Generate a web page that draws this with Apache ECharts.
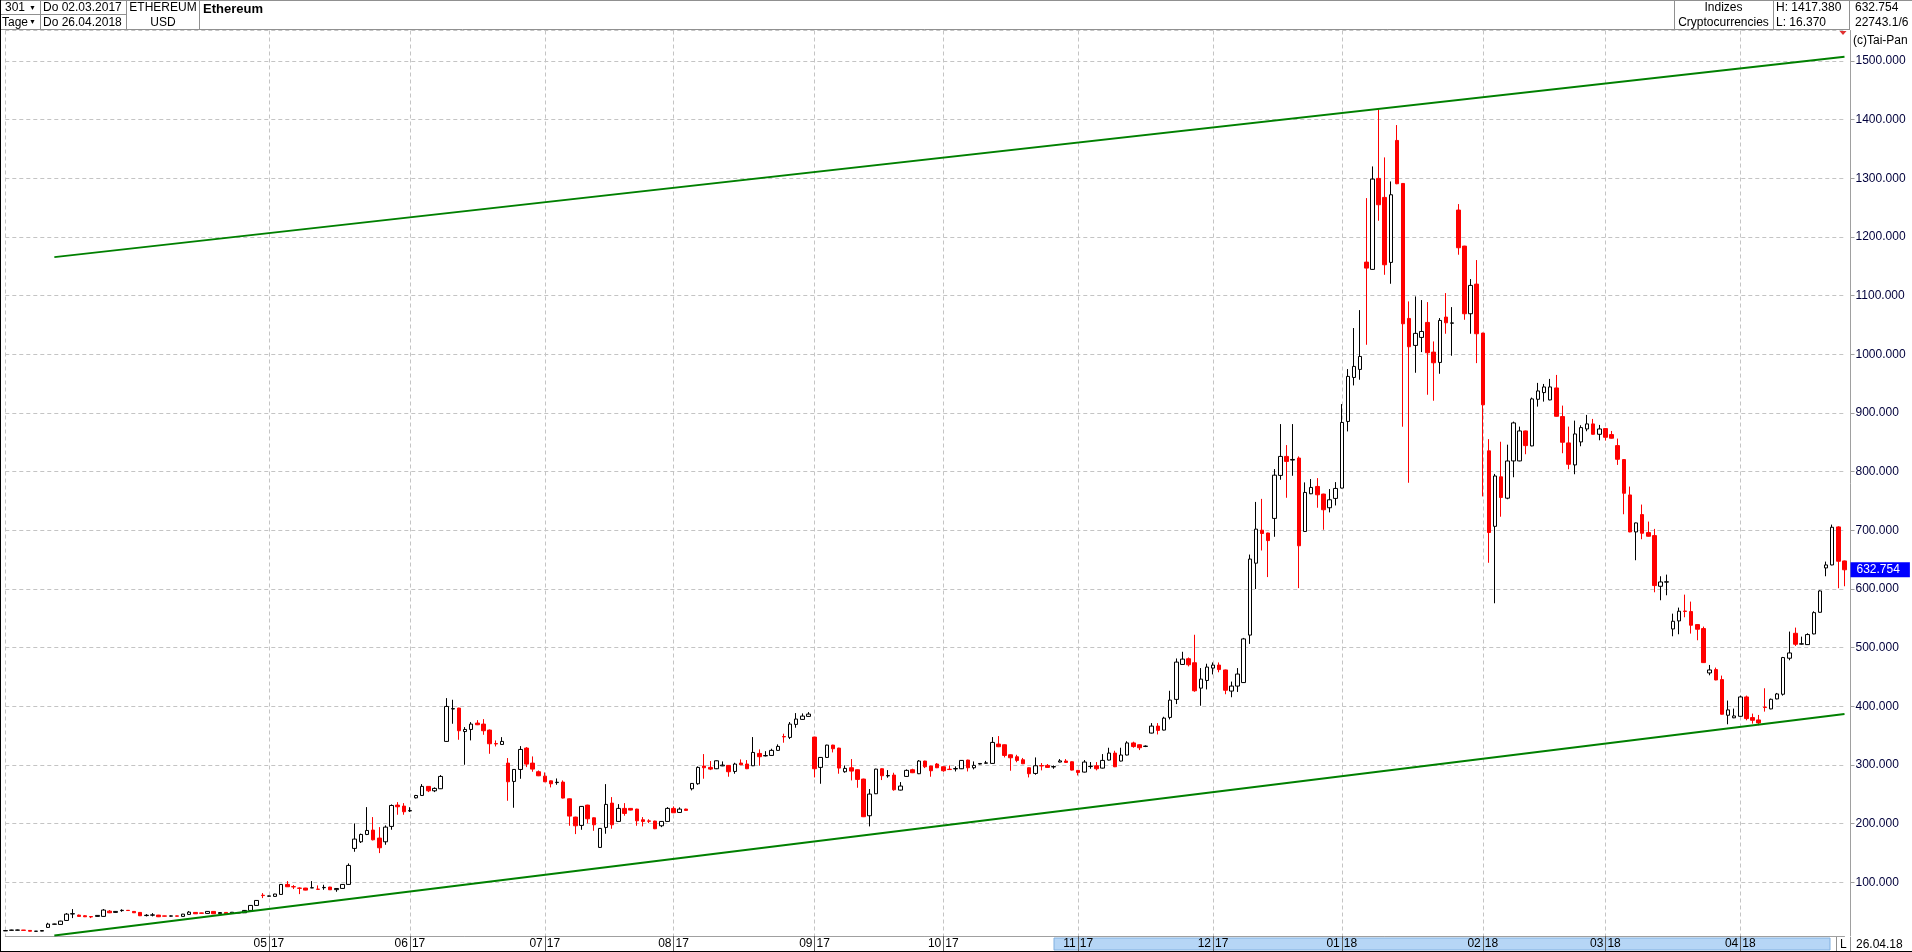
<!DOCTYPE html>
<html><head><meta charset="utf-8">
<script src="https://cdn.jsdelivr.net/npm/echarts@6/dist/echarts.min.js"></script>
<style>html,body{margin:0;padding:0;background:#fff;overflow:hidden}#c{width:1912px;height:952px}</style>
</head><body><div id="c"></div>
<script>
// ---- data (weekday candles, 02.03.2017 .. 26.04.2018) ----
const opens = [
17.2,18.2,18.4,18.6,18.0,16.5,16.8,23.1,28.5,28.2,
35.0,46.0,44.1,43.0,41.6,41.9,41.9,50.9,48.7,51.8,
52.3,50.4,48.7,43.3,44.0,44.1,42.8,42.3,42.8,41.9,
45.3,48.7,47.8,47.0,50.4,46.6,48.7,47.2,47.9,48.1,
52.1,60.6,78.0,76.3,76.0,79.4,96.4,92.6,90.2,90.2,
90.4,88.4,90.8,91.9,87.5,89.6,96.4,157.8,169.1,181.6,
189.0,175.4,169.1,195.3,231.6,229.9,221.7,244.0,248.1,263.5,
256.0,259.5,340.2,395.5,397.0,357.0,360.6,371.4,369.7,359.5,
336.5,335.0,303.2,272.0,292.4,328.8,303.2,288.5,281.0,273.0,
270.0,270.8,242.4,211.2,197.0,231.6,210.0,159.5,193.6,235.0,
203.8,226.0,226.0,224.8,206.6,204.7,204.4,196.4,203.8,226.0,
219.1,224.9,259.5,268.0,298.2,295.9,293.6,298.5,299.3,289.0,
303.3,301.6,298.7,319.7,315.5,316.3,324.9,348.5,347.0,369.2,
377.7,382.8,347.6,295.9,312.9,333.9,328.8,288.5,295.3,291.9,
276.0,213.5,251.0,293.6,281.4,282.8,257.2,280.5,291.9,285.1,
306.7,298.2,301.6,297.0,292.8,293.3,293.6,308.4,295.3,301.6,
303.0,302.7,335.7,334.5,317.4,314.0,308.9,295.3,285.6,299.0,
299.3,296.7,305.0,306.7,305.5,290.8,287.9,297.3,298.7,294.7,
308.4,320.3,306.7,317.0,337.6,334.5,331.6,354.4,366.3,359.5,
381.1,411.8,471.4,481.1,474.3,431.0,444.1,465.2,470.3,462.0,
426.0,434.5,440.5,521.4,644.0,700.2,695.4,720.3,793.6,826.0,
819.8,823.2,698.1,762.3,774.8,761.8,738.5,754.4,772.0,885.6,
960.6,974.3,1157.2,1144.8,1299.9,1267.5,1156.7,1364.6,1291.3,1061.2,
1015.2,1028.8,1054.4,1003.8,986.2,1063.5,1053.0,1245.9,1184.5,1069.2,
1119.7,1036.2,835.5,706.8,791.2,754.8,818.3,818.3,869.4,843.9,
923.4,934.8,922.3,942.7,893.9,849.0,811.5,850.7,872.8,881.4,
863.7,873.4,863.2,844.4,820.6,760.3,697.3,726.8,696.1,691.0,
604.6,611.7,531.9,545.6,562.4,561.5,539.3,532.5,456.9,462.6,
445.6,384.8,380.4,383.0,416.0,380.8,376.8,398.7,395.6,412.6,
420.6,482.0,524.5,506.0,505.2,523.4,560.3,635.9,641.0,705.8,
647.8];
const closes = [
17.8,18.6,18.7,18.1,16.6,16.8,17.8,28.8,28.9,33.9,
45.8,46.6,41.9,41.3,41.0,43.6,52.7,48.1,50.4,52.3,
51.9,48.1,43.0,43.9,44.5,41.3,42.3,42.8,42.3,45.8,
49.2,46.4,47.3,50.4,46.4,48.5,46.4,49.0,48.3,52.1,
60.6,69.1,77.4,76.8,80.0,96.4,92.4,92.2,89.8,86.7,
90.8,88.0,91.3,87.3,89.5,96.4,128.8,173.7,181.6,188.4,
172.5,158.9,194.1,231.0,228.8,220.3,222.3,248.0,263.5,256.0,
260.1,280.5,399.8,396.1,358.4,360.6,369.7,368.6,358.4,336.2,
335.9,340.2,271.4,292.4,326.5,301.5,293.0,281.6,271.4,268.0,
270.6,243.6,212.9,196.4,229.4,208.3,198.1,191.9,232.8,198.1,
226.0,217.4,223.1,204.9,203.8,204.1,191.3,203.8,226.0,218.6,
224.8,222.6,268.6,295.9,295.3,293.0,307.2,299.8,288.5,301.6,
300.4,293.6,321.4,314.1,316.1,324.9,331.7,347.9,369.7,378.3,
383.4,386.8,293.6,312.9,333.9,327.7,294.7,294.2,289.6,275.4,
211.8,250.4,293.0,281.7,282.0,257.8,264.1,290.8,286.8,306.7,
297.0,290.2,295.3,290.2,292.2,293.9,307.8,295.3,299.3,302.6,
303.6,338.5,331.1,316.3,312.3,307.8,302.1,285.1,298.7,298.4,
295.9,297.3,307.0,304.4,291.3,287.3,305.0,297.9,293.6,307.8,
320.3,297.0,317.0,337.6,331.4,329.4,332.2,366.3,359.0,379.9,
410.6,475.4,480.5,470.9,426.5,446.4,466.9,470.3,462.6,427.4,
434.5,455.0,514.9,651.0,702.0,694.6,682.5,794.0,826.0,817.5,
820.8,673.7,764.6,773.1,760.6,735.1,752.1,771.4,883.9,962.4,
979.4,996.4,1147.0,1298.7,1255.0,1152.7,1272.0,1290.8,1052.1,1012.9,
1035.7,1039.0,1002.7,985.6,1057.8,1053.8,1053.6,1181.7,1069.2,1117.5,
1035.1,914.0,696.3,792.6,756.0,818.2,883.1,869.4,844.4,924.0,
937.6,944.4,944.4,894.4,850.1,812.6,864.3,875.1,881.4,863.7,
872.8,858.6,857.0,821.1,763.2,697.3,712.6,695.0,689.9,605.8,
612.0,612.3,545.0,562.1,561.8,538.2,531.4,474.5,462.0,445.0,
386.5,393.9,383.6,416.0,379.1,376.2,371.7,398.1,412.0,421.1,
483.1,491.0,505.8,506.6,522.3,559.7,596.7,641.0,705.2,647.3,
632.754];
const lows = [
16.9,17.8,18.0,17.8,16.4,16.37,16.6,22.5,28.2,27.8,
34.6,39.0,41.3,40.8,39.0,41.5,41.5,47.5,48.2,49.8,
51.5,47.8,42.5,41.9,41.9,40.8,41.9,41.6,41.9,41.5,
44.8,46.0,46.9,46.6,46.0,46.2,46.0,46.8,47.5,47.7,
51.7,60.2,73.1,75.9,75.6,79.0,92.0,88.5,79.9,86.3,
90.2,87.9,87.3,86.9,83.9,89.2,96.0,152.1,167.0,180.5,
171.4,149.8,164.0,189.6,215.2,215.2,220.0,243.0,247.5,253.8,
253.8,259.0,339.5,370.3,343.0,300.4,341.9,368.0,351.5,319.1,
331.6,334.5,239.0,227.1,276.5,296.4,288.5,281.0,270.8,261.8,
266.3,243.0,196.4,182.2,189.6,200.4,187.9,159.0,182.8,191.3,
203.2,213.5,222.5,196.4,195.3,200.9,190.7,194.1,203.2,218.0,
218.5,222.0,256.7,266.3,276.6,291.3,293.0,298.0,280.0,285.1,
299.8,293.0,298.1,298.7,314.6,315.7,324.3,338.0,344.2,363.5,
377.1,382.2,278.8,268.0,312.3,321.4,285.1,286.8,273.7,261.2,
211.2,195.3,250.4,274.3,278.3,256.1,256.6,279.9,286.2,284.5,
294.7,280.0,294.7,288.5,291.6,289.0,293.0,289.0,292.5,301.0,
302.4,302.1,330.5,312.9,290.2,304.7,301.5,278.8,283.4,290.8,
295.3,293.6,304.4,303.8,290.7,282.2,287.3,293.6,290.8,294.1,
307.8,296.4,306.1,316.4,329.4,325.4,330.5,353.8,352.1,358.9,
377.7,403.8,470.8,468.0,424.8,401.0,428.8,454.4,458.0,420.6,
415.5,424.5,440.0,506.4,600.0,665.6,620.3,689.0,786.2,755.5,
793.0,601.5,697.5,761.7,738.5,701.0,730.6,742.4,771.4,868.6,
947.0,956.7,1016.3,1144.0,1227.7,1135.6,1120.3,1290.0,876.6,781.1,
968.6,1003.8,931.1,920.9,966.9,1035.1,997.6,1169.8,1058.9,1035.1,
985.0,757.8,644.7,575.7,723.2,753.0,790.5,817.7,829.7,843.3,
910.9,919.4,921.7,893.8,831.4,804.1,795.6,843.3,868.9,863.1,
853.5,853.0,856.4,811.5,727.4,696.7,649.0,684.8,689.3,594.4,
580.8,589.3,519.4,522.8,551.8,524.0,512.6,473.9,452.9,444.4,
385.9,369.4,379.8,382.4,376.2,370.5,367.7,391.0,395.0,412.0,
418.3,478.5,502.9,505.4,504.6,522.8,559.7,621.7,640.4,601.3,
604.7];
const highs = [
18.3,19.2,19.3,18.8,18.3,17.0,18.2,31.0,29.4,34.5,
47.6,54.4,45.0,44.0,42.0,44.0,54.4,52.7,51.0,54.0,
52.6,50.8,49.0,45.8,47.5,44.5,43.1,43.5,43.1,46.2,
51.0,49.0,48.1,50.8,50.8,48.9,49.0,49.4,48.7,52.5,
61.0,69.8,81.6,77.2,80.4,96.8,102.1,95.3,91.3,90.6,
102.1,94.7,95.8,92.3,89.9,96.8,132.2,200.4,183.0,228.2,
211.2,194.1,197.0,232.8,236.7,235.0,228.0,249.0,267.4,264.0,
261.8,282.8,414.0,411.2,397.5,364.6,373.1,376.5,378.2,360.5,
341.9,347.5,311.8,293.0,332.2,330.5,314.6,290.7,287.3,273.5,
277.0,273.7,243.0,211.8,230.0,232.2,210.6,192.5,267.4,245.3,
233.3,235.0,226.6,225.4,211.2,207.5,205.0,204.4,228.2,229.4,
227.7,225.5,269.2,297.6,318.6,306.7,307.8,306.1,299.9,303.8,
309.5,308.4,347.6,326.6,323.6,327.7,335.1,353.3,373.2,388.5,
387.9,390.2,348.2,313.5,334.5,334.5,329.4,299.3,310.1,292.5,
276.6,259.0,293.6,294.2,291.3,286.8,270.9,292.5,293.6,308.4,
307.3,298.8,303.3,297.6,299.3,297.6,308.4,309.0,306.1,303.2,
307.0,347.6,349.3,335.1,318.0,317.4,312.0,295.9,312.9,303.3,
301.6,299.3,310.1,310.1,306.1,291.4,308.4,305.0,305.0,318.6,
329.4,324.3,329.4,340.5,339.7,335.1,333.4,371.4,371.4,382.2,
426.5,481.6,493.0,483.3,522.0,465.2,472.6,474.8,474.8,462.6,
442.2,465.2,516.6,658.7,748.4,753.6,696.0,804.4,881.1,845.3,
881.1,826.0,781.7,787.4,789.0,762.4,770.3,782.2,915.2,974.9,
1044.8,1075.4,1266.3,1320.3,1417.38,1335.7,1294.7,1390.8,1292.0,1090.2,
1098.7,1092.5,1089.0,1022.0,1061.8,1104.4,1080.5,1256.1,1185.0,1128.3,
1160.7,1036.8,855.5,796.1,851.0,846.0,885.3,876.8,870.0,926.3,
951.3,949.5,958.1,964.9,912.6,876.8,887.0,879.1,896.7,889.9,
879.7,874.0,869.4,856.4,821.2,774.6,713.2,743.9,714.9,702.4,
621.7,624.5,558.0,568.3,590.4,578.5,539.9,535.9,470.5,466.0,
452.4,409.8,396.1,418.3,418.3,387.6,385.3,430.8,413.2,422.8,
484.2,527.4,534.2,518.8,524.5,562.0,597.8,646.7,709.8,706.9,
648.4];
const monthKeys = ['2017-05','2017-06','2017-07','2017-08','2017-09','2017-10','2017-11','2017-12','2018-01','2018-02','2018-03','2018-04'];
const monthLabels = ['05|17','06|17','07|17','08|17','09|17','10|17','11|17','12|17','01|18','02|18','03|18','04|18'];
const upperTrend = [[8, 1165.7], [300, 1507.3]];
const lowerTrend = [[8, 9.2], [300, 387.1]];
const lastPrice = 632.754;

// categories: weekdays from 02.03.2017
const dates = [];
{ const d = new Date(Date.UTC(2017, 2, 2));
  while (dates.length < opens.length) {
    const wd = d.getUTCDay();
    if (wd !== 0 && wd !== 6) dates.push(d.toISOString().slice(0, 10));
    d.setUTCDate(d.getUTCDate() + 1);
  } }
const labelAt = new Map();
monthKeys.forEach((k, j) => { const i = dates.findIndex(s => s.startsWith(k)); labelAt.set(i + 1, monthLabels[j]); });
const gridAt = new Set([0, ...labelAt.keys()]);
const ohlc = opens.map((o, i) => [o, closes[i], lows[i], highs[i]]);

const FONT = 'Liberation Sans, Arial, sans-serif';
const NARROW = 'Liberation Sans Narrow, Liberation Sans, Arial, sans-serif';
const dash = { color: '#c4c4c4', width: 1, type: [4, 3] };

function txt(x, y, s, opt) {
  return Object.assign({ type: 'text', x: x, y: y, silent: true, z: 10,
    style: Object.assign({ text: s, fill: '#000', font: '12px ' + FONT, textVerticalAlign: 'middle' }, opt || {}) });
}
function ln(x1, y1, x2, y2, c) {
  return { type: 'line', silent: true, z: 10, shape: { x1, y1, x2, y2 }, style: { stroke: c || '#909090', lineWidth: 1 } };
}

const chart = echarts.init(document.getElementById('c'), null, { renderer: 'canvas' });
chart.setOption({
  animation: false,
  backgroundColor: '#ffffff',
  grid: { left: 5.3, right: 67.5, top: 30.5, bottom: 16, containLabel: false },
  xAxis: {
    type: 'category', data: dates, boundaryGap: false,
    axisLine: { show: true, onZero: false, lineStyle: { color: '#a0a0a0', width: 1 } },
    axisTick: { show: true, interval: (i) => labelAt.has(i), length: 15, lineStyle: { color: '#606060', width: 1 } },
    axisLabel: {
      interval: (i) => labelAt.has(i), margin: 2, color: '#000',
      fontFamily: NARROW, fontSize: 12,
      formatter: (v, i) => { const t = labelAt.get(i) || ''; const p = t.split('|'); return '{a|' + p[0] + '}{b|' + p[1] + '}'; },
      rich: { a: { fontFamily: NARROW, fontSize: 12, color: '#000', padding: [0, 2, 0, 0] },
              b: { fontFamily: NARROW, fontSize: 12, color: '#000', padding: [0, 0, 0, 2] } }
    },
    splitLine: { show: true, interval: (i) => gridAt.has(i), lineStyle: dash }
  },
  yAxis: {
    type: 'value', position: 'right', offset: 6, scale: true,
    min: 8.5, max: 1552, splitNumber: 15, minInterval: 100, maxInterval: 100,
    axisLine: { show: true, lineStyle: { color: '#a0a0a0', width: 1 } },
    axisTick: { show: true, length: 4, lineStyle: { color: '#a0a0a0' } },
    axisLabel: { showMinLabel: false, showMaxLabel: false, margin: 5, color: '#00003c',
      fontFamily: FONT, fontSize: 12, formatter: (v) => v.toFixed(3) },
    splitLine: { show: true, lineStyle: dash }
  },
  series: [
    {
      type: 'candlestick', name: 'Ethereum', data: ohlc, barWidth: 4, clip: false, z: 3,
      itemStyle: { color: '#ffffff', color0: '#ff0000', borderColor: '#000000', borderColor0: '#ff0000', borderWidth: 1 },
      emphasis: { disabled: true },
      markLine: {
        silent: true, symbol: ['none', 'none'], animation: false, z: 8,
        lineStyle: { color: 'rgba(0,0,0,0)', width: 1, type: 'solid' },
        emphasis: { disabled: true },
        label: { show: true, position: 'end', distance: 6, formatter: () => lastPrice.toFixed(3),
          color: '#ffffff', backgroundColor: '#0000ff', fontFamily: FONT, fontSize: 12, opacity: 1,
          padding: [1, 10, 1, 6], lineHeight: 13 },
        data: [{ yAxis: lastPrice }]
      }
    },
    { type: 'line', name: 'upper', data: upperTrend, symbol: 'none', silent: true, z: 4,
      lineStyle: { color: '#008000', width: 2 } },
    { type: 'line', name: 'lower', data: lowerTrend, symbol: 'none', silent: true, z: 4,
      lineStyle: { color: '#008000', width: 2 } }
  ],
  graphic: [
    { type: 'rect', silent: true, z: -1, shape: { x: 1054, y: 938, width: 776, height: 12 }, style: { fill: '#b6d6f6', stroke: '#80b0e0', lineWidth: 1 } },
    // header frame
    ln(0, 0.5, 1912, 0.5), ln(0, 29.5, 1849.5, 29.5), ln(0, 14.5, 126.5, 14.5),
    ln(40.5, 0, 40.5, 29.5), ln(126.5, 0, 126.5, 29.5), ln(199.5, 0, 199.5, 29.5),
    ln(1674.5, 0, 1674.5, 29.5), ln(1773.5, 0, 1773.5, 29.5), ln(1849.5, 0, 1849.5, 30),
    ln(0.5, 0, 0.5, 952, '#000'), ln(0, 951.5, 1912, 951.5, '#000'),
    ln(1836.5, 937, 1836.5, 951), ln(1850.5, 937, 1850.5, 951),
    txt(5, 8, '301'), txt(29, 8, '▼', { font: '7px ' + FONT }),
    txt(2, 22.5, 'Tage'), txt(29, 22.5, '▼', { font: '7px ' + FONT }),
    txt(43, 8, 'Do 02.03.2017'), txt(43, 22.5, 'Do 26.04.2018'),
    txt(163, 8, 'ETHEREUM', { textAlign: 'center' }), txt(163, 22.5, 'USD', { textAlign: 'center' }),
    txt(203, 9, 'Ethereum', { font: 'bold 13px ' + FONT }),
    txt(1723.5, 8, 'Indizes', { textAlign: 'center' }), txt(1723.5, 22.5, 'Cryptocurrencies', { textAlign: 'center' }),
    txt(1776, 8, 'H: 1417.380'), txt(1776, 22.5, 'L: 16.370'),
    txt(1855, 8, '632.754'), txt(1855, 22.5, '22743.1/6'),
    txt(1853, 41, '(c)Tai-Pan'),
    { type: 'polygon', silent: true, z: 10, shape: { points: [[1839.5, 31], [1846.5, 31], [1843, 35]] }, style: { fill: '#e03030' } },
    txt(1840, 944.5, 'L', { font: '12px ' + NARROW }),
    txt(1856, 944.5, '26.04.18', { font: '12px ' + NARROW })
  ]
});
</script>
</body></html>
